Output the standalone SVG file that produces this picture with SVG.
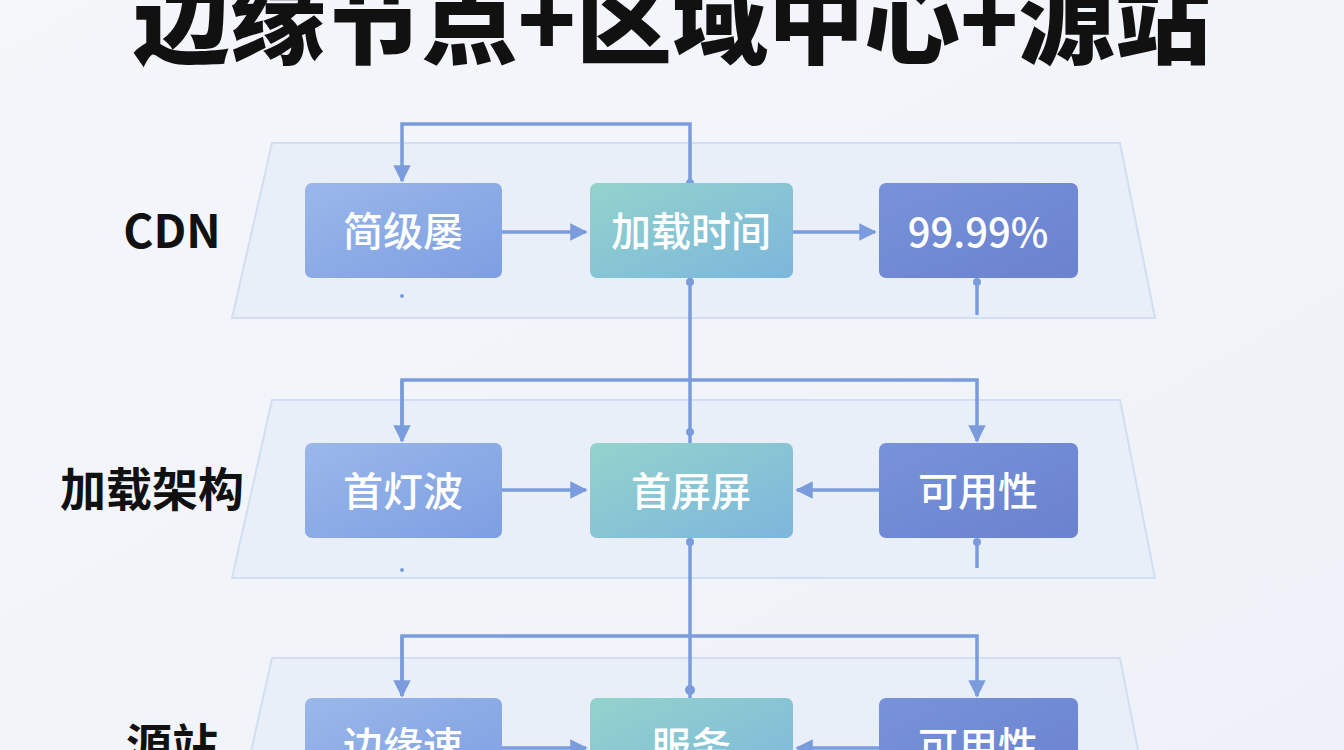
<svg xmlns="http://www.w3.org/2000/svg" width="1344" height="750" viewBox="0 0 1344 750">
<defs>
<linearGradient id="bg" x1="0" y1="0" x2="1" y2="1"><stop offset="0" stop-color="#f4f6fa"/><stop offset="1" stop-color="#eef2f8"/></linearGradient>
<linearGradient id="g1" x1="0" y1="0" x2="1" y2="1"><stop offset="0" stop-color="#9ab8ea"/><stop offset="1" stop-color="#7d9ee2"/></linearGradient>
<linearGradient id="g2" x1="0" y1="0" x2="1" y2="1"><stop offset="0" stop-color="#93d3cc"/><stop offset="1" stop-color="#7cb6dc"/></linearGradient>
<linearGradient id="g3" x1="0" y1="0" x2="1" y2="1"><stop offset="0" stop-color="#7892da"/><stop offset="1" stop-color="#6a82cf"/></linearGradient>
<marker id="ar" viewBox="0 0 10 10" refX="9" refY="5" markerWidth="5" markerHeight="5" orient="auto"><path d="M0,0 L10,5 L0,10 Z" fill="#7b9cdc"/></marker>
</defs>
<style>
.plat{fill:#e4ecf8;fill-opacity:.7;stroke:#d2def2;stroke-width:2}
.node text{font-family:"Noto Sans CJK SC","Noto Sans",sans-serif;font-size:40px;fill:#fff;text-anchor:middle;font-weight:500}
.lbl{font-family:"Noto Sans CJK SC","Liberation Sans",sans-serif;font-size:46px;font-weight:bold;fill:#111;text-anchor:middle}
.c{fill:none;stroke:#7b9cdc;stroke-width:3.5}
.d{fill:#7b9cdc}
</style>
<rect width="1344" height="750" fill="url(#bg)"/>
<text x="672" y="56" font-family="Noto Sans CJK SC,sans-serif" font-size="96" font-weight="900" text-anchor="middle" fill="#111">边缘节点+区域中心+源站</text>
<g id="platforms">
<path class="plat" d="M272,143 L1120,143 L1155,318 L232,318 Z"/>
<path class="plat" d="M272,400 L1120,400 L1155,578 L232,578 Z"/>
<path class="plat" d="M272,658 L1120,658 L1155,836 L232,836 Z"/>
</g>
<text class="lbl" x="172" y="248">CDN</text>
<text class="lbl" x="152" y="506">加载架构</text>
<text class="lbl" x="172" y="762">源站</text>
<g id="connectors">
<path class="c" d="M690,183 V124 H402 V181" marker-end="url(#ar)"/>
<path class="c" d="M402,232 H586" marker-end="url(#ar)"/>
<path class="c" d="M793,232 H875" marker-end="url(#ar)"/>
<path class="c" d="M690,278 V443"/>
<path class="c" d="M977,280 V315"/>
<path class="c" d="M402,441 V380 H977 V441" marker-end="url(#ar)"/>
<path class="c" d="M402,380 V441" marker-end="url(#ar)"/>
<path class="c" d="M402,490 H586" marker-end="url(#ar)"/>
<path class="c" d="M879,490 H797" marker-end="url(#ar)"/>
<path class="c" d="M690,538 V698"/>
<path class="c" d="M977,540 V568"/>
<path class="c" d="M402,696 V636 H977 V696" marker-end="url(#ar)"/>
<path class="c" d="M402,636 V696" marker-end="url(#ar)"/>
<path class="c" d="M402,748 H586" marker-end="url(#ar)"/>
<path class="c" d="M879,748 H797" marker-end="url(#ar)"/>
<circle class="d" cx="690" cy="183" r="4"/><circle class="d" cx="690" cy="282" r="4"/><circle class="d" cx="690" cy="432" r="4"/>
<circle class="d" cx="977" cy="282" r="4"/><circle class="d" cx="402" cy="296" r="2"/>
<circle class="d" cx="690" cy="542" r="4"/><circle class="d" cx="977" cy="542" r="4"/><circle class="d" cx="402" cy="570" r="2"/>
<circle class="d" cx="690" cy="690" r="5"/>
</g>
<g id="n1" class="node"><rect x="305" y="183" width="197" height="95" rx="7" fill="url(#g1)"/><text x="403" y="246">简级屡</text></g>
<g id="n2" class="node"><rect x="590" y="183" width="203" height="95" rx="7" fill="url(#g2)"/><text x="691" y="246">加载时间</text></g>
<g id="n3" class="node"><rect x="879" y="183" width="199" height="95" rx="7" fill="url(#g3)"/><text x="978" y="247" font-family="Liberation Sans" font-weight="bold">99.99%</text></g>
<g id="n4" class="node"><rect x="305" y="443" width="197" height="95" rx="7" fill="url(#g1)"/><text x="403" y="506">首灯波</text></g>
<g id="n5" class="node"><rect x="590" y="443" width="203" height="95" rx="7" fill="url(#g2)"/><text x="691" y="506">首屏屏</text></g>
<g id="n6" class="node"><rect x="879" y="443" width="199" height="95" rx="7" fill="url(#g3)"/><text x="978" y="506">可用性</text></g>
<g id="n7" class="node"><rect x="305" y="698" width="197" height="95" rx="7" fill="url(#g1)"/><text x="403" y="761">边缘速</text></g>
<g id="n8" class="node"><rect x="590" y="698" width="203" height="95" rx="7" fill="url(#g2)"/><text x="691" y="761">服务</text></g>
<g id="n9" class="node"><rect x="879" y="698" width="199" height="95" rx="7" fill="url(#g3)"/><text x="978" y="761">可用性</text></g>
</svg>
